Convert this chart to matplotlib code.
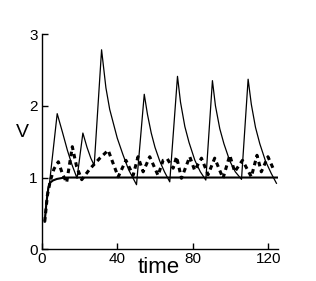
import matplotlib
matplotlib.use("Agg")
import matplotlib.pyplot as plt

plt.rcParams['font.family'] = ['Liberation Sans', 'DejaVu Sans']

# thin sawtooth trace (time, V)
saw_t = [1.6, 3.0, 4.2, 8.2, 11.0, 13.6, 16.0, 18.7, 21.8, 24.0, 26.0, 27.8,
         31.7, 34.0, 36.0, 37.9, 40.0, 43.0, 46.0, 50.2,
         54.3, 56.0, 58.0, 60.0, 62.5, 65.0, 67.8,
         71.9, 73.5, 75.8, 78.0, 81.1, 84.0, 86.9,
         90.4, 92.0, 94.3, 96.5, 99.6, 102.5, 105.8,
         109.3, 111.0, 113.2, 115.5, 118.5, 121.5, 124.3]
saw_v = [0.385, 0.80, 0.94, 1.89, 1.63, 1.38, 1.18, 0.99, 1.62, 1.42, 1.27, 1.17,
         2.78, 2.25, 1.95, 1.76, 1.55, 1.32, 1.11, 0.90,
         2.16, 1.88, 1.62, 1.42, 1.23, 1.08, 0.94,
         2.41, 2.05, 1.71, 1.49, 1.24, 1.08, 0.965,
         2.35, 2.00, 1.68, 1.47, 1.23, 1.08, 0.975,
         2.37, 2.02, 1.70, 1.47, 1.23, 1.06, 0.92]

# thick solid trace settling to 1
flat_t = [1.6, 2.5, 3.5, 4.5, 6.0, 8.0, 11.0, 14.0, 125.0]
flat_v = [0.385, 0.65, 0.85, 0.93, 0.96, 0.98, 0.995, 1.0, 1.0]

# dashed oscillating trace
dash_t = [1.6, 3.0, 4.5, 6.5, 8.8, 11.0, 13.2, 16.2, 18.5, 21.2, 25.5, 30.8,
          35.2, 40.5, 44.6, 48.4, 51.0, 53.7, 57.2, 61.6, 64.3, 66.5, 69.6,
          71.4, 74.0, 78.4, 81.0, 84.6, 88.1, 91.6, 96.0, 99.6, 102.2, 106.3,
          111.0, 114.0, 116.3, 119.8, 122.5]
dash_v = [0.385, 0.75, 0.95, 1.12, 1.22, 1.05, 0.93, 1.43, 1.15, 0.97, 1.12, 1.27,
          1.38, 1.01, 1.24, 1.03, 1.29, 1.08, 1.29, 1.03, 1.24, 1.26, 1.13,
          1.29, 0.99, 1.29, 1.10, 1.27, 1.04, 1.27, 0.99, 1.31, 1.08, 1.24,
          1.01, 1.31, 1.08, 1.29, 1.13]

fig = plt.figure(figsize=(3.16, 2.81), dpi=100)
ax = fig.add_axes([0.132, 0.1128, 0.747, 0.7662])

ax.plot(saw_t, saw_v, color='black', linewidth=0.9)
ax.plot(flat_t, flat_v, color='black', linewidth=1.5)
ax.plot(dash_t, dash_v, color='black', linewidth=2.2, dashes=(1.5, 1.3))

ax.set_xlim(0, 125)
ax.set_ylim(0, 3)
ax.set_xticks([0, 40, 80, 120])
ax.set_yticks([0, 1, 2, 3])
ax.tick_params(direction='in', length=4, width=1, labelsize=11, pad=2)
ax.tick_params(axis='y', pad=3)
for s in ['top', 'right']:
    ax.spines[s].set_visible(False)
ax.spines['left'].set_linewidth(1)
ax.spines['bottom'].set_linewidth(1)

fig.text(22 / 316, 1 - 133 / 281, 'V', fontsize=14, ha='center', va='center')
fig.text(159 / 316, 1 - 273 / 281, 'time', fontsize=16, ha='center', va='baseline')

plt.savefig('out.png', dpi=100)
